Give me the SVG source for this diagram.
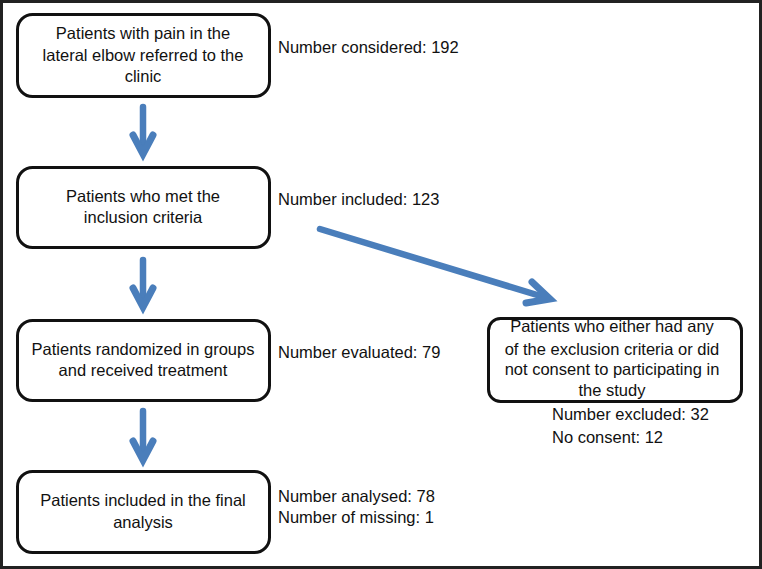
<svg xmlns="http://www.w3.org/2000/svg" width="762" height="569" viewBox="0 0 762 569">
<style>
.box{fill:#fff;stroke:#111;stroke-width:3}
text{font-family:"Liberation Sans",Arial,sans-serif;font-size:16.5px;fill:#111}
.c{text-anchor:middle}
.arr{fill:none;stroke:#4a7ebb;stroke-width:6.5;stroke-linecap:round}
.head{fill:none;stroke:#4a7ebb;stroke-width:7;stroke-linecap:round;stroke-linejoin:miter;stroke-miterlimit:10}
</style>
<rect x="1.5" y="1.5" width="759" height="566" fill="#fff" stroke="#222" stroke-width="3"/>
<g id="connectors">
<line class="arr" x1="143" y1="107" x2="143" y2="152"/>
<polyline class="head" points="133,135 143,154 153,135"/>
<line class="arr" x1="143" y1="260" x2="143" y2="305"/>
<polyline class="head" points="133,288 143,307 153,288"/>
<line class="arr" x1="143" y1="411" x2="143" y2="458"/>
<polyline class="head" points="133,441 143,460 153,441"/>
<line class="arr" x1="320" y1="229" x2="547" y2="298"/>
<polyline class="head" points="532,282 550,299 526,303"/>
</g>
<g id="n1">
<rect class="box" x="17.5" y="14.5" width="252" height="82" rx="15"/>
<text class="c" x="143" y="39">Patients with pain in the</text>
<text class="c" x="143" y="61">lateral elbow referred to the</text>
<text class="c" x="143" y="82">clinic</text>
<text x="278" y="53">Number considered: 192</text>
</g>
<g id="n2">
<rect class="box" x="17.5" y="167.5" width="252" height="80" rx="15"/>
<text class="c" x="143" y="202">Patients who met the</text>
<text class="c" x="143" y="223">inclusion criteria</text>
<text x="278" y="205">Number included: 123</text>
</g>
<g id="n3">
<rect class="box" x="17.5" y="320.5" width="252" height="80" rx="15"/>
<text class="c" x="143" y="355">Patients randomized in groups</text>
<text class="c" x="143" y="376">and received treatment</text>
<text x="278" y="358">Number evaluated: 79</text>
</g>
<g id="n4">
<rect class="box" x="17.5" y="471.5" width="252" height="81" rx="15"/>
<text class="c" x="143" y="506">Patients included in the final</text>
<text class="c" x="143" y="528">analysis</text>
<text x="278" y="502">Number analysed: 78</text>
<text x="278" y="523">Number of missing: 1</text>
</g>
<g id="n5">
<rect class="box" x="488.5" y="318.5" width="253" height="83" rx="12"/>
<text class="c" x="612" y="332">Patients who either had any</text>
<text class="c" x="612" y="355">of the exclusion criteria or did</text>
<text class="c" x="612" y="375">not consent to participating in</text>
<text class="c" x="612" y="396">the study</text>
<text x="552" y="420">Number excluded: 32</text>
<text x="552" y="443">No consent: 12</text>
</g>
</svg>
